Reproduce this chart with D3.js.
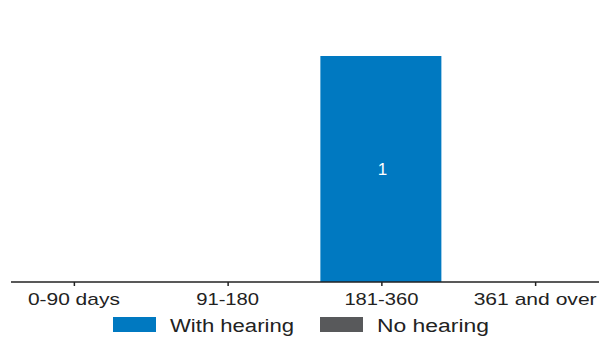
<!DOCTYPE html>
<html>
<head>
<meta charset="utf-8">
<script src="https://cdn.jsdelivr.net/npm/d3@7"></script>
<style>
  html, body { margin: 0; padding: 0; background: #fff; }
  svg { display: block; }
  text { font-family: "Liberation Sans", Arial, sans-serif; }
</style>
</head>
<body>
<svg id="chart" width="614" height="341"></svg>
<script>
const categories = ["0-90 days", "91-180", "181-360", "361 and over"];
const withHearing = [0, 0, 1, 0];
const noHearing = [0, 0, 0, 0];
const seriesNames = ["With hearing", "No hearing"];
const seriesColors = ["#0079C1", "#58595B"];
const tickLabelWidths = [92, 63, 74, 123];
const legendLabelWidths = [124, 112];

const svg = d3.select("#chart");
const x = d3.scalePoint().domain(categories).range([-3, 612]).padding(0.5);
const step = x.step();
const barW = step * 0.787;
const y = d3.scaleLinear().domain([0, 1]).range([282, 56]);

const data = categories.map((c, i) => ({ cat: c, vals: [withHearing[i], noHearing[i]] }));
const stack = d3.stack().keys([0, 1]).value((d, k) => d.vals[k]);
const layers = stack(data);

layers.forEach((layer, k) => {
  svg.append("g").selectAll("rect").data(layer.filter(d => d[1] - d[0] > 0)).join("rect")
    .attr("x", d => x(d.data.cat) - barW / 2 - 0.5)
    .attr("width", barW)
    .attr("y", d => y(d[1]))
    .attr("height", d => y(d[0]) - y(d[1]))
    .attr("fill", seriesColors[k]);
  svg.append("g").selectAll("text").data(layer.filter(d => d[1] - d[0] > 0)).join("text")
    .attr("x", d => x(d.data.cat) + 1)
    .attr("y", d => (y(d[0]) + y(d[1])) / 2 + 6)
    .attr("text-anchor", "middle")
    .attr("font-size", 17)
    .attr("fill", "#fff")
    .text(d => d[1] - d[0]);
});

// axis
const axis = d3.axisBottom(x).tickSize(4).tickFormat("");
const gAxis = svg.append("g").attr("transform", "translate(0,282)").call(axis);
gAxis.select(".domain").remove();
gAxis.selectAll(".tick line").attr("stroke", "#222").attr("stroke-width", 1.5);
svg.append("line").attr("x1", 11).attr("x2", 599).attr("y1", 282).attr("y2", 282)
  .attr("stroke", "#222").attr("stroke-width", 1.5);

svg.append("g").selectAll("text").data(categories).join("text")
  .attr("x", d => x(d))
  .attr("y", 305)
  .attr("text-anchor", "middle")
  .attr("font-size", 17)
  .attr("fill", "#222")
  .attr("textLength", (d, i) => tickLabelWidths[i])
  .attr("lengthAdjust", "spacingAndGlyphs")
  .text(d => d);

// legend
const legendX = [113, 320];
const lg = svg.append("g");
seriesNames.forEach((name, i) => {
  lg.append("rect").attr("x", legendX[i]).attr("y", 317).attr("width", 43).attr("height", 15)
    .attr("fill", seriesColors[i]);
  lg.append("text").attr("x", legendX[i] + 57).attr("y", 332)
    .attr("font-size", 18).attr("fill", "#222")
    .attr("textLength", legendLabelWidths[i])
    .attr("lengthAdjust", "spacingAndGlyphs")
    .text(name);
});
</script>
</body>
</html>
